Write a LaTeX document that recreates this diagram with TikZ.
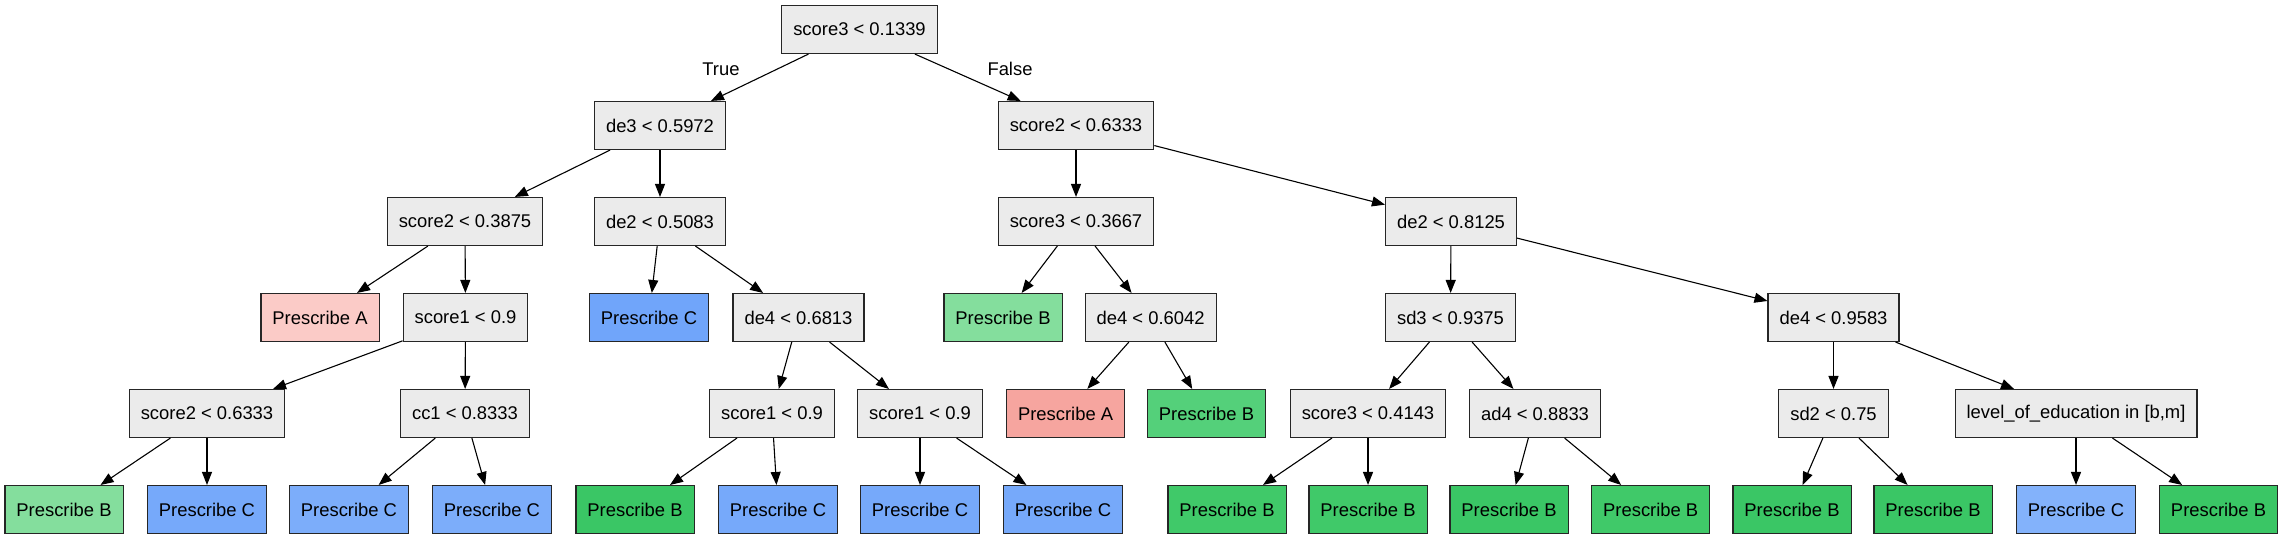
\documentclass[tikz,border=0pt]{standalone}
\usepackage{fontspec}
\setmainfont{Liberation Sans}
\usetikzlibrary{arrows.meta}
\definecolor{gry}{HTML}{EBEBEB}
\definecolor{pinkA}{HTML}{FBCBC7}
\definecolor{salA}{HTML}{F6A59F}
\definecolor{lgB}{HTML}{84DE9D}
\definecolor{mgB}{HTML}{54D07A}
\definecolor{gB}{HTML}{3AC665}
\definecolor{gB2}{HTML}{40C969}
\definecolor{bC}{HTML}{76A9FA}
\definecolor{bC2}{HTML}{7CADFA}
\definecolor{bC3}{HTML}{83B2FB}
\definecolor{bC4}{HTML}{70A5FA}
\tikzset{
  tn/.style={draw=black!85, line width=1.1pt, fill=gry, rectangle, minimum height=48pt,
    inner xsep=11.5pt, inner ysep=0pt, font=\fontsize{18.4}{20}\selectfont, text=black},
  edge/.style={draw=black, line width=1.1pt, -{Triangle[length=13pt,width=10pt]}},
  lab/.style={font=\fontsize{18.4}{20}\selectfont, inner sep=0pt}
}
\begin{document}
\begin{tikzpicture}[x=1pt,y=-1pt]
\useasboundingbox (0,0) rectangle (2283,539);
% level 0
\node[tn] (r) at (859.5,29.5) {score3 < 0.1339};
% level 1
\node[tn] (a) at (660,125.5) {de3 < 0.5972};
\node[tn] (b) at (1076,125.5) {score2 < 0.6333};
% level 2
\node[tn] (a1) at (465,221.5) {score2 < 0.3875};
\node[tn] (a2) at (660,221.5) {de2 < 0.5083};
\node[tn] (b1) at (1076,221.5) {score3 < 0.3667};
\node[tn] (b2) at (1451,221.5) {de2 < 0.8125};
% level 3
\node[tn,fill=pinkA] (a1l) at (320,317.5) {Prescribe A};
\node[tn] (a1r) at (465.5,317.5) {score1 < 0.9};
\node[tn,fill=bC4] (a2l) at (649,317.5) {Prescribe C};
\node[tn] (a2r) at (798.5,317.5) {de4 < 0.6813};
\node[tn,fill=lgB] (b1l) at (1003,317.5) {Prescribe B};
\node[tn] (b1r) at (1150.6,317.5) {de4 < 0.6042};
\node[tn] (b2l) at (1450.5,317.5) {sd3 < 0.9375};
\node[tn] (b2r) at (1833.5,317.5) {de4 < 0.9583};
% level 4
\node[tn] (c1) at (207,413.5) {score2 < 0.6333};
\node[tn] (c2) at (465,413.5) {cc1 < 0.8333};
\node[tn] (c3) at (772,413.5) {score1 < 0.9};
\node[tn] (c4) at (920,413.5) {score1 < 0.9};
\node[tn,fill=salA] (c5) at (1065.6,413.5) {Prescribe A};
\node[tn,fill=mgB] (c6) at (1206.5,413.5) {Prescribe B};
\node[tn] (c7) at (1368,413.5) {score3 < 0.4143};
\node[tn] (c8) at (1535,413.5) {ad4 < 0.8833};
\node[tn] (c9) at (1833.5,413.5) {sd2 < 0.75};
\node[tn] (c10) at (2076,413.5) {level\_of\_education in [b,m]};
% level 5
\node[tn,fill=lgB] (l1) at (64,509.5) {Prescribe B};
\node[tn,fill=bC] (l2) at (207,509.5) {Prescribe C};
\node[tn,fill=bC2] (l3) at (349,509.5) {Prescribe C};
\node[tn,fill=bC2] (l4) at (492,509.5) {Prescribe C};
\node[tn,fill=gB] (l5) at (635,509.5) {Prescribe B};
\node[tn,fill=bC] (l6) at (778,509.5) {Prescribe C};
\node[tn,fill=bC] (l7) at (920,509.5) {Prescribe C};
\node[tn,fill=bC] (l8) at (1063,509.5) {Prescribe C};
\node[tn,fill=gB2] (l9) at (1227,509.5) {Prescribe B};
\node[tn,fill=gB2] (l10) at (1368,509.5) {Prescribe B};
\node[tn,fill=gB] (l11) at (1509,509.5) {Prescribe B};
\node[tn,fill=gB2] (l12) at (1650.7,509.5) {Prescribe B};
\node[tn,fill=gB] (l13) at (1792,509.5) {Prescribe B};
\node[tn,fill=gB] (l14) at (1933,509.5) {Prescribe B};
\node[tn,fill=bC3] (l15) at (2076,509.5) {Prescribe C};
\node[tn,fill=gB] (l16) at (2218.5,509.5) {Prescribe B};
% labels
\node[lab] (tl) at (721,69) {True};
\node[lab] (fl) at (1010,69) {False};
% edges
\draw[edge] (r) -- (a);
\draw[edge] (r) -- (b);
\draw[edge] (a) -- (a1);
\draw[edge] (a) -- (a2);
\draw[edge] (b) -- (b1);
\draw[edge] (b) -- (b2);
\draw[edge] (a1) -- (a1l);
\draw[edge] (a1) -- (a1r);
\draw[edge] (a2) -- (a2l);
\draw[edge] (a2) -- (a2r);
\draw[edge] (b1) -- (b1l);
\draw[edge] (b1) -- (b1r);
\draw[edge] (b2) -- (b2l);
\draw[edge] (b2) -- (b2r);
\draw[edge] (a1r) -- (c1);
\draw[edge] (a1r) -- (c2);
\draw[edge] (a2r) -- (c3);
\draw[edge] (a2r) -- (c4);
\draw[edge] (b1r) -- (c5);
\draw[edge] (b1r) -- (c6);
\draw[edge] (b2l) -- (c7);
\draw[edge] (b2l) -- (c8);
\draw[edge] (b2r) -- (c9);
\draw[edge] (b2r) -- (c10);
\draw[edge] (c1) -- (l1);
\draw[edge] (c1) -- (l2);
\draw[edge] (c2) -- (l3);
\draw[edge] (c2) -- (l4);
\draw[edge] (c3) -- (l5);
\draw[edge] (c3) -- (l6);
\draw[edge] (c4) -- (l7);
\draw[edge] (c4) -- (l8);
\draw[edge] (c7) -- (l9);
\draw[edge] (c7) -- (l10);
\draw[edge] (c8) -- (l11);
\draw[edge] (c8) -- (l12);
\draw[edge] (c9) -- (l13);
\draw[edge] (c9) -- (l14);
\draw[edge] (c10) -- (l15);
\draw[edge] (c10) -- (l16);
\end{tikzpicture}
\end{document}
